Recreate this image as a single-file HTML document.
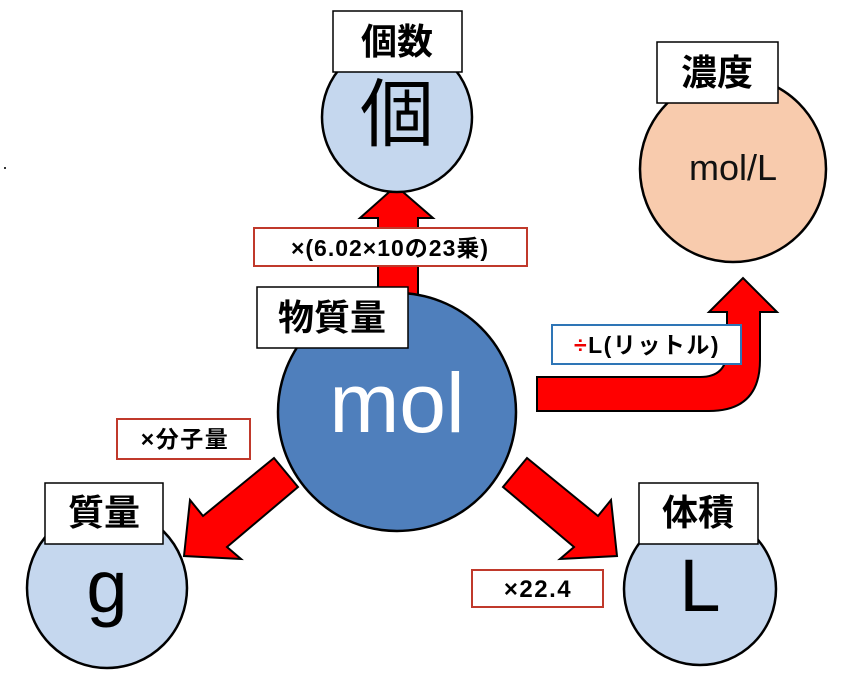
<!DOCTYPE html>
<html><head><meta charset="utf-8"><style>
html,body{margin:0;padding:0;background:#fff;width:850px;height:682px;overflow:hidden}
svg text{font-family:"Liberation Sans","Noto Sans CJK JP",sans-serif}
</style></head><body>
<svg width="850" height="682" viewBox="0 0 850 682" xmlns="http://www.w3.org/2000/svg">
<rect x="4" y="167" width="2" height="2" fill="#333"/>
<!-- arrows -->
<polygon points="378,300 378,218 360,218 396,186 433,218 418,218 418,300" fill="#f00" stroke="#000" stroke-width="2"/>
<path d="M537,377 L700,377 Q727,377 727,350 L727,312 L709,312 L743,278 L777,312 L760,312 L760,360 Q760,411 709,411 L537,411 Z" fill="#f00" stroke="#000" stroke-width="2"/>
<polygon points="527,458 598,516 611,500 617,556 560,559 574,547 503,487" fill="#f00" stroke="#000" stroke-width="2"/>
<polygon points="274,458 203,516 190,500 184,556 241,559 227,547 298,487" fill="#f00" stroke="#000" stroke-width="2"/>
<!-- circles -->
<circle cx="397" cy="117" r="75" fill="#c5d7ee" stroke="#000" stroke-width="2.5"/>
<text x="397" y="140" font-size="74" text-anchor="middle" fill="#000">個</text>
<circle cx="733" cy="169" r="93" fill="#f8cbad" stroke="#000" stroke-width="2.5"/>
<text x="733" y="180" font-size="36" text-anchor="middle" fill="#111">mol/L</text>
<circle cx="397" cy="412" r="119" fill="#4f7fbc" stroke="#000" stroke-width="2.5"/>
<text x="397" y="432" font-size="84" text-anchor="middle" fill="#fff">mol</text>
<circle cx="107" cy="588" r="80" fill="#c5d7ee" stroke="#000" stroke-width="2.5"/>
<text x="107" y="612" font-size="74" text-anchor="middle" fill="#000">g</text>
<circle cx="700" cy="589" r="76" fill="#c5d7ee" stroke="#000" stroke-width="2.5"/>
<text x="700" y="611" font-size="74" text-anchor="middle" fill="#000">L</text>
<!-- title boxes -->
<rect x="333" y="11" width="129" height="61" fill="#fff" stroke="#000" stroke-width="1.5"/>
<text x="397" y="54" font-size="36" font-weight="bold" text-anchor="middle">個数</text>
<rect x="657" y="42" width="121" height="61" fill="#fff" stroke="#000" stroke-width="1.5"/>
<text x="717" y="85" font-size="36" font-weight="bold" text-anchor="middle">濃度</text>
<rect x="257" y="287" width="151" height="61" fill="#fff" stroke="#000" stroke-width="1.5"/>
<text x="332" y="330" font-size="36" font-weight="bold" text-anchor="middle">物質量</text>
<rect x="45" y="483" width="118" height="61" fill="#fff" stroke="#000" stroke-width="1.5"/>
<text x="104" y="525" font-size="36" font-weight="bold" text-anchor="middle">質量</text>
<rect x="639" y="483" width="119" height="61" fill="#fff" stroke="#000" stroke-width="1.5"/>
<text x="698" y="525" font-size="36" font-weight="bold" text-anchor="middle">体積</text>
<!-- operation labels -->
<rect x="254" y="228" width="273" height="38" fill="#fff" stroke="#c0392b" stroke-width="2"/>
<text x="390" y="256" font-size="23" font-weight="bold" text-anchor="middle" letter-spacing="1">×(6.02×10の23乗)</text>
<rect x="552" y="325" width="189" height="39" fill="#fff" stroke="#2e75b6" stroke-width="2"/>
<text x="647" y="353" font-size="23" font-weight="bold" text-anchor="middle" letter-spacing="1.5"><tspan fill="#e00">÷</tspan>L(リットル)</text>
<rect x="117" y="419" width="133" height="40" fill="#fff" stroke="#c0392b" stroke-width="2"/>
<text x="185" y="447" font-size="23" font-weight="bold" text-anchor="middle" letter-spacing="1.5">×分子量</text>
<rect x="472" y="570" width="131" height="37" fill="#fff" stroke="#c0392b" stroke-width="2"/>
<text x="538" y="597" font-size="24" font-weight="bold" text-anchor="middle" letter-spacing="1.5">×22.4</text>
</svg>
</body></html>
